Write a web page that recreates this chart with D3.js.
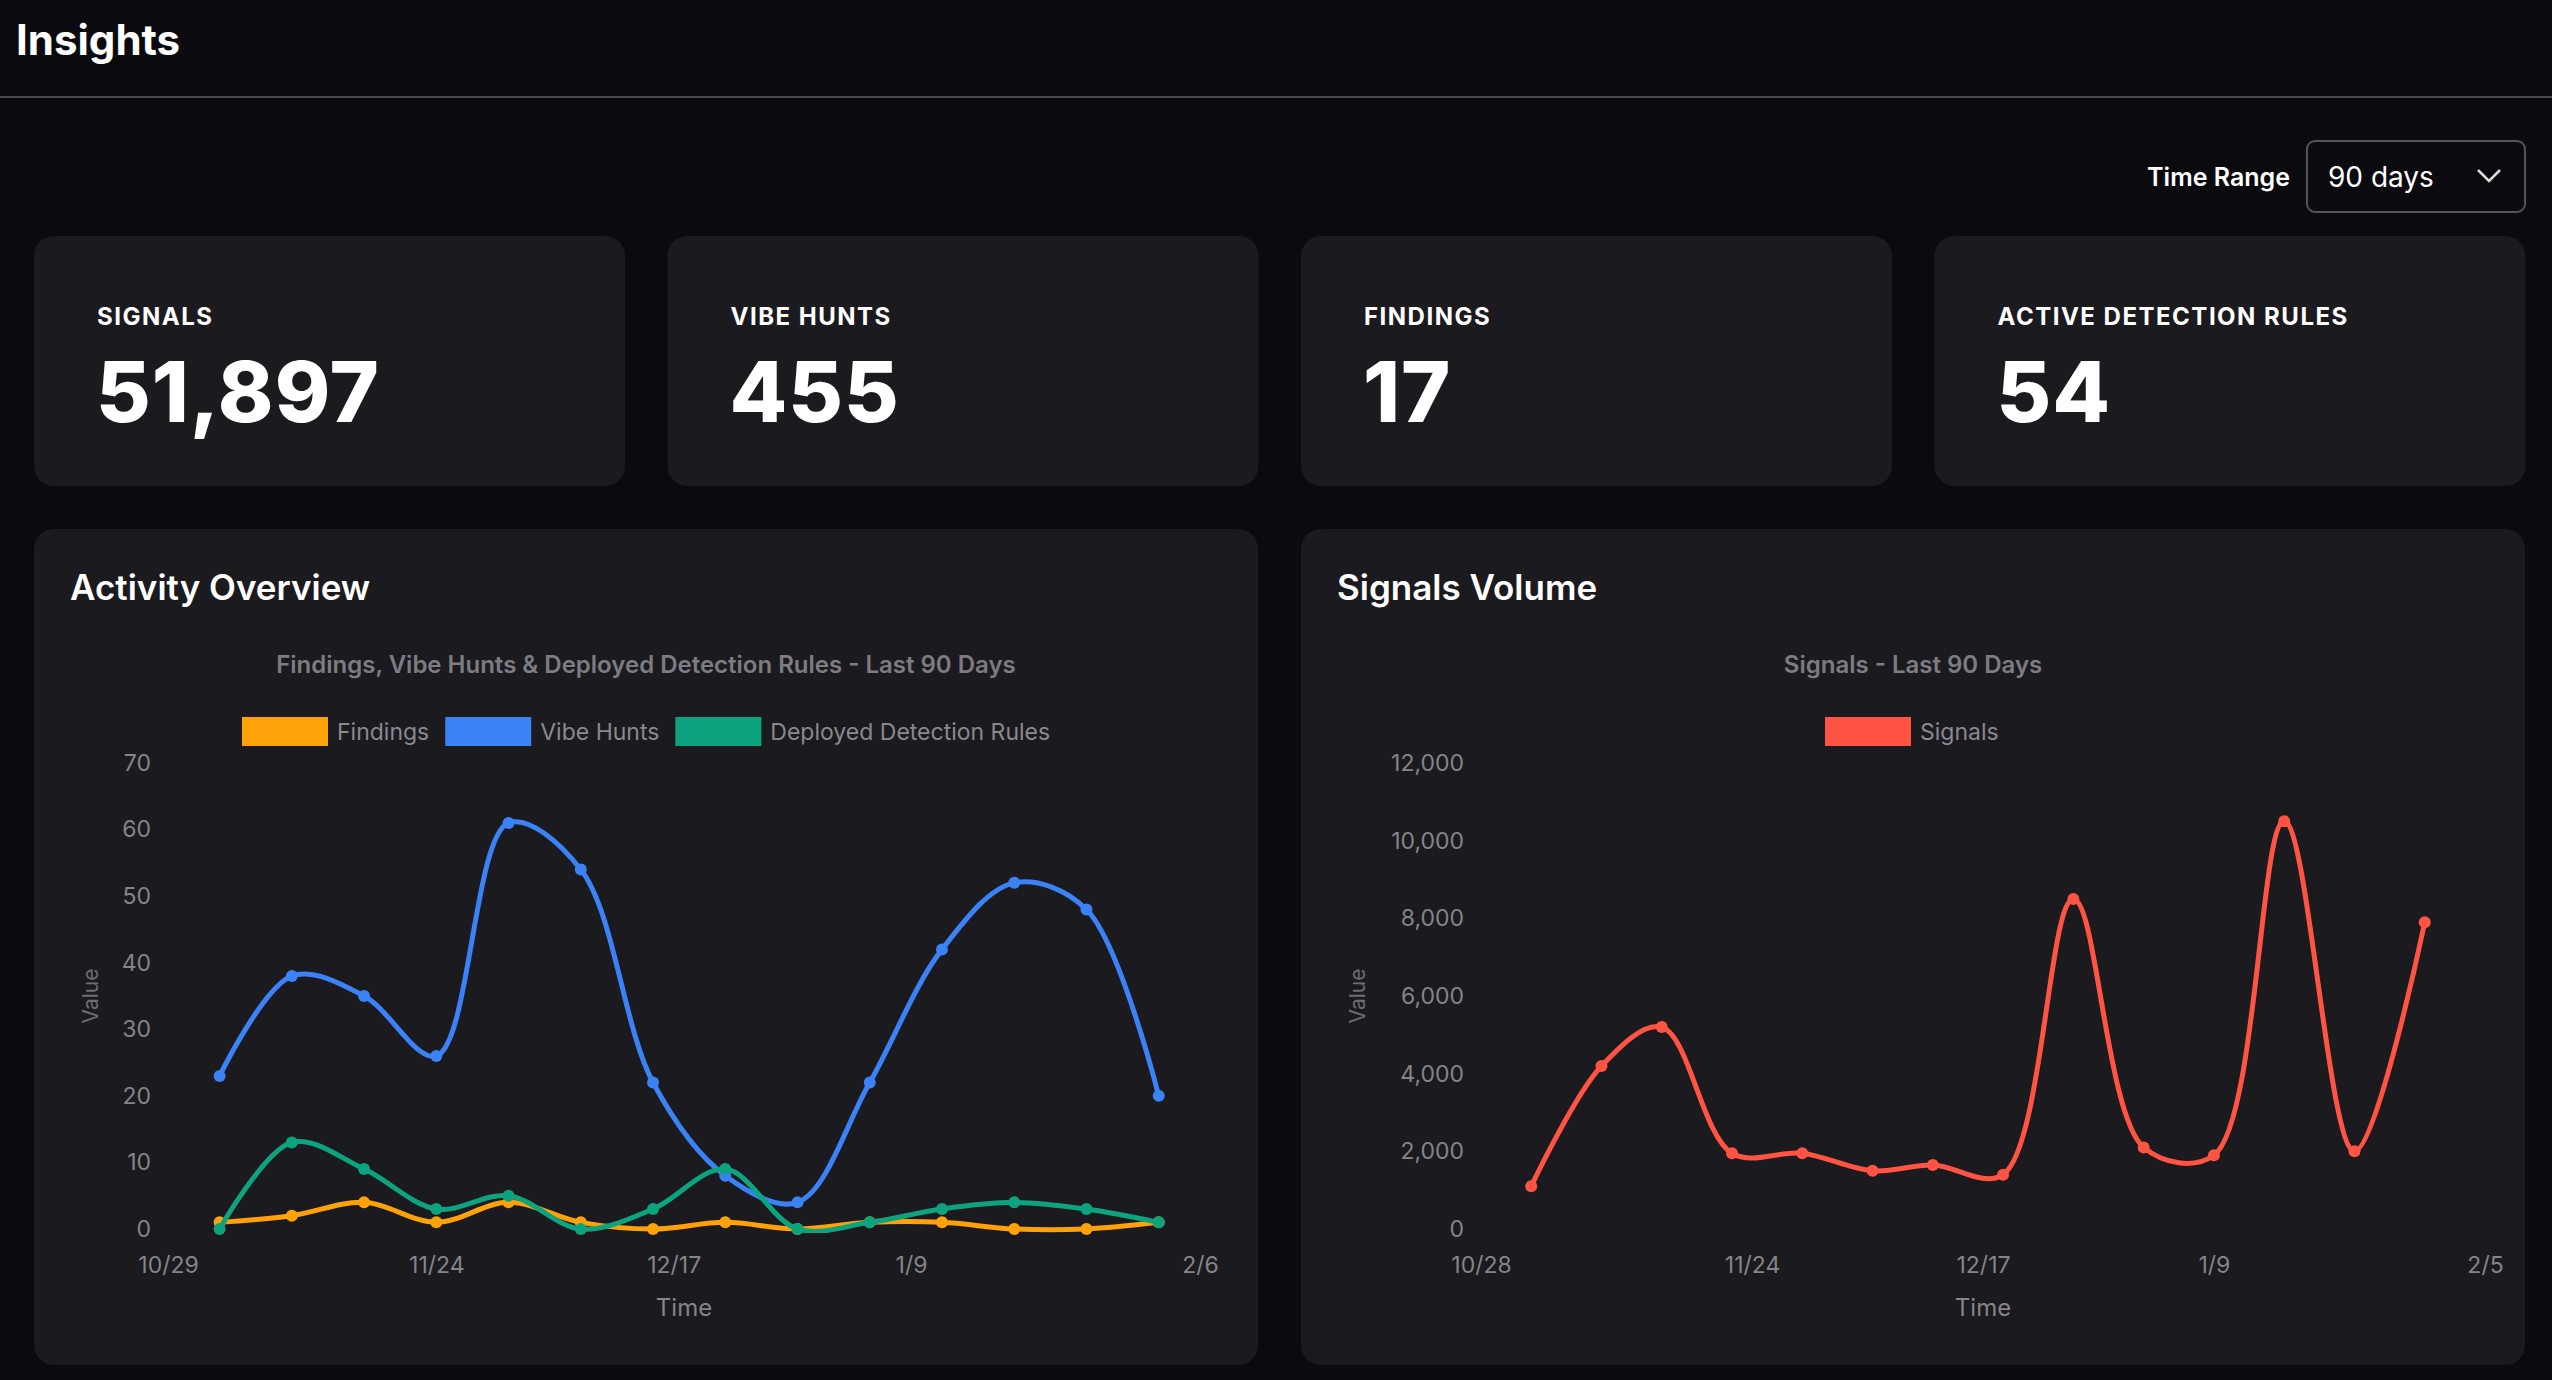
<!DOCTYPE html>
<html>
<head>
<meta charset="utf-8">
<script src="https://cdn.jsdelivr.net/npm/d3@7"></script>
<style>
  body { margin: 0; background: #0b0a0e; font-family: Inter, "Noto Sans", sans-serif; }
  svg { display: block; }
</style>
</head>
<body>
<svg id="page" width="2552" height="1380"></svg>
<script>
// data
const activityDates = ['2024-11-03','2024-11-10','2024-11-17','2024-11-24','2024-12-01','2024-12-08','2024-12-15',
  '2024-12-22','2024-12-29','2025-01-05','2025-01-12','2025-01-19','2025-01-26','2025-02-02'];
const findings = [1, 2, 4, 1, 4, 1, 0, 1, 0, 1, 1, 0, 0, 1];
const vibeHunts = [23, 38, 35, 26, 61, 54, 22, 8, 4, 22, 42, 52, 48, 20];
const deployedRules = [0, 13, 9, 3, 5, 0, 3, 9, 0, 1, 3, 4, 3, 1];
const activityTicks = ['2024-10-29','2024-11-24','2024-12-17','2025-01-09','2025-02-06'];

const signalDates = ['2024-11-02','2024-11-09','2024-11-15','2024-11-22','2024-11-29','2024-12-06','2024-12-12',
  '2024-12-19','2024-12-26','2025-01-02','2025-01-09','2025-01-16','2025-01-23','2025-01-30'];
const signals = [1100, 4200, 5200, 1950, 1950, 1500, 1650, 1400, 8500, 2100, 1900, 10500, 2000, 7900];
const signalTicks = ['2024-10-28','2024-11-24','2024-12-17','2025-01-09','2025-02-05'];

const cards = [
  { label: 'SIGNALS', value: '51,897' },
  { label: 'VIBE HUNTS', value: '455' },
  { label: 'FINDINGS', value: '17' },
  { label: 'ACTIVE DETECTION RULES', value: '54' }
];

const parse = d3.timeParse('%Y-%m-%d');
const fmtTick = d => (d.getMonth() + 1) + '/' + d.getDate();
const svg = d3.select('#page');
const cardBg = '#1b1a1e';

// header
svg.append('text').attr('x', 16).attr('y', 55).attr('fill', '#fff')
  .attr('font-size', 42).attr('font-weight', 700).text('Insights');
svg.append('line').attr('x1', 0).attr('x2', 2552).attr('y1', 97).attr('y2', 97)
  .attr('stroke', '#4a494e').attr('stroke-width', 2);

svg.append('text').attr('x', 2290).attr('y', 186).attr('text-anchor', 'end').attr('fill', '#fff')
  .attr('font-size', 25).attr('font-weight', 600).text('Time Range');
svg.append('rect').attr('x', 2307).attr('y', 141).attr('width', 218).attr('height', 71).attr('rx', 8)
  .attr('fill', '#0b0a0e').attr('stroke', '#55545a').attr('stroke-width', 2);
svg.append('text').attr('x', 2328).attr('y', 187).attr('fill', '#fff').attr('font-size', 28).text('90 days');
svg.append('path').attr('d', 'M2478,170 L2489,181 L2500,170').attr('fill', 'none')
  .attr('stroke', '#ddd').attr('stroke-width', 2.5);

// stat cards
cards.forEach((c, i) => {
  const x = 34 + i * 633.5;
  const g = svg.append('g').attr('transform', `translate(${x},236)`);
  g.append('rect').attr('width', 591).attr('height', 250).attr('rx', 20).attr('fill', cardBg);
  g.append('text').attr('x', 63).attr('y', 89).attr('fill', '#fff').attr('font-size', 24)
    .attr('font-weight', 700).attr('letter-spacing', 1.5).text(c.label);
  g.append('text').attr('x', 62).attr('y', 186).attr('fill', '#fff').attr('font-size', 84)
    .attr('font-weight', 800).attr('letter-spacing', 1).text(c.value);
});

function panel(x0, title, subtitle, dates, series, yMax, yStep, tickDates, xDomain, legendX) {
  const g = svg.append('g').attr('transform', `translate(${x0},529)`);
  g.append('rect').attr('width', 1224).attr('height', 836).attr('rx', 20).attr('fill', cardBg);
  g.append('text').attr('x', 36).attr('y', 71).attr('fill', '#fff').attr('font-size', 35)
    .attr('font-weight', 600).text(title);
  g.append('text').attr('x', 612).attr('y', 144).attr('text-anchor', 'middle').attr('fill', '#7d7c82')
    .attr('font-size', 24).attr('font-weight', 600).text(subtitle);

  // legend
  let lx = legendX;
  series.forEach(s => {
    g.append('rect').attr('x', lx).attr('y', 188).attr('width', 86).attr('height', 29).attr('fill', s.color);
    const t = g.append('text').attr('x', lx + 95).attr('y', 211).attr('fill', '#8a898f')
      .attr('font-size', 23).text(s.name);
    lx += 95 + t.node().getComputedTextLength() + 16;
  });

  const x = d3.scaleTime().domain(xDomain.map(parse)).range([xDomain.r0, xDomain.r1]);
  const y = d3.scaleLinear().domain([0, yMax]).range([700, 234]);

  const yAxis = g.append('g').attr('transform', `translate(${xDomain.r0 - 14},0)`)
    .call(d3.axisLeft(y).tickValues(d3.range(0, yMax + 1, yStep)).tickSize(0).tickFormat(d3.format(',')));
  yAxis.select('.domain').remove();
  yAxis.selectAll('text').attr('fill', '#85848a').attr('font-size', 23).attr('font-family', 'Inter, sans-serif');

  const xAxis = g.append('g').attr('transform', 'translate(0,725)')
    .call(d3.axisBottom(x).tickValues(tickDates.map(parse)).tickSize(0).tickFormat(fmtTick));
  xAxis.select('.domain').remove();
  xAxis.selectAll('text').attr('fill', '#85848a').attr('font-size', 23).attr('font-family', 'Inter, sans-serif');

  g.append('text').attr('transform', 'translate(64,467) rotate(-90)').attr('text-anchor', 'middle')
    .attr('fill', '#6e6d73').attr('font-size', 21).text('Value');
  g.append('text').attr('x', (xDomain.r0 + xDomain.r1) / 2).attr('y', 787).attr('text-anchor', 'middle')
    .attr('fill', '#85848a').attr('font-size', 24).text('Time');

  const clip = 'clip' + x0;
  g.append('clipPath').attr('id', clip).append('rect')
    .attr('x', xDomain.r0).attr('y', 200).attr('width', xDomain.r1 - xDomain.r0).attr('height', 504);

  const pts = dates.map(parse);
  series.forEach(s => {
    const line = d3.line().x((d, i) => x(pts[i])).y(d => y(d)).curve(d3.curveCatmullRom.alpha(0.5));
    g.append('path').datum(s.values).attr('d', line).attr('fill', 'none').attr('stroke', s.color)
      .attr('stroke-width', 5).attr('clip-path', `url(#${clip})`);
    g.selectAll(null).data(s.values).enter().append('circle')
      .attr('cx', (d, i) => x(pts[i])).attr('cy', d => y(d)).attr('r', 6).attr('fill', s.color);
  });
}

const actDomain = ['2024-10-29', '2025-02-06']; actDomain.r0 = 134; actDomain.r1 = 1166;
panel(34, 'Activity Overview', 'Findings, Vibe Hunts & Deployed Detection Rules - Last 90 Days',
  activityDates, [
    { name: 'Findings', color: '#ffa20a', values: findings },
    { name: 'Vibe Hunts', color: '#3b82f6', values: vibeHunts },
    { name: 'Deployed Detection Rules', color: '#0ea37f', values: deployedRules }
  ], 70, 10, activityTicks, actDomain, 208);

const sigDomain = ['2024-10-28', '2025-02-05']; sigDomain.r0 = 180; sigDomain.r1 = 1184;
panel(1301, 'Signals Volume', 'Signals - Last 90 Days', signalDates, [
  { name: 'Signals', color: '#ff5443', values: signals }
], 12000, 2000, signalTicks, sigDomain, 524);
</script>
</body>
</html>
